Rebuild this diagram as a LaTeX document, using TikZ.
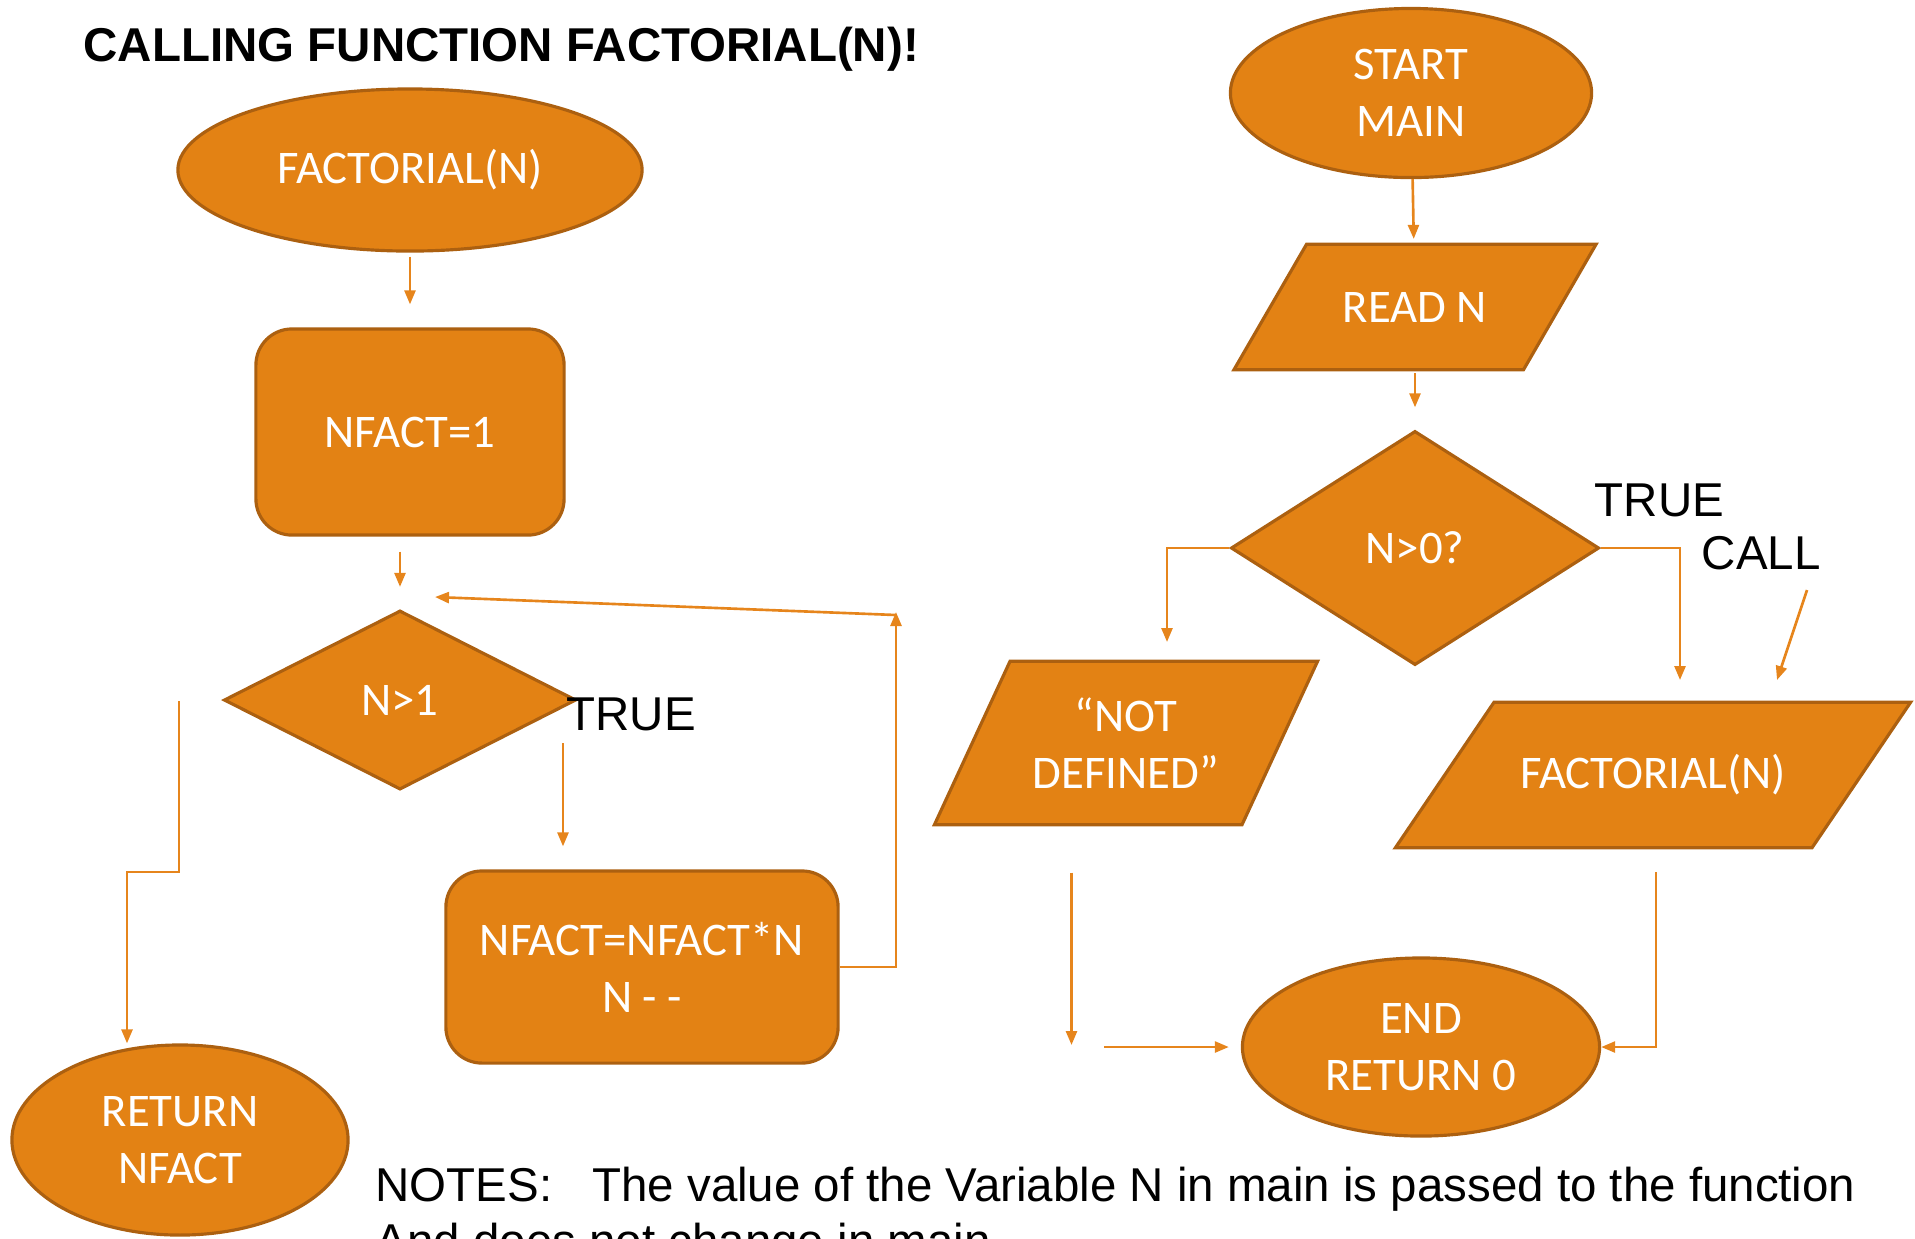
\documentclass[tikz,border=0pt]{standalone}
\usepackage{fontspec}
\setmainfont{Liberation Sans}
\newfontfamily\boxfont{Carlito}
\usetikzlibrary{shapes.geometric,arrows.meta}

\definecolor{boxfill}{RGB}{227,130,20}
\definecolor{boxedge}{RGB}{172,96,16}
\definecolor{linecol}{RGB}{230,133,28}

\begin{document}
\begin{tikzpicture}[x=0.01cm, y=-0.01cm,
  box/.style={draw=boxedge, fill=boxfill, line width=0.9pt, text=white, inner sep=0pt,
    font=\boxfont\fontsize{13.3}{16.2}\selectfont, align=center},
  oval/.style={box, ellipse},
  rbox/.style={box, rectangle, rounded corners=0.36cm},
  cond/.style={box, diamond},
  io/.style={box, rectangle, draw=none, fill=none, path picture={
    \filldraw[draw=boxedge, fill=boxfill, line width=0.9pt]
      ([shift={(#1+0.6pt,-0.5pt)}]path picture bounding box.north west) --
      ([shift={(-1pt,-0.5pt)}]path picture bounding box.north east) --
      ([shift={(-#1-0.6pt,0.5pt)}]path picture bounding box.south east) --
      ([shift={(1pt,0.5pt)}]path picture bounding box.south west) -- cycle;}},
  arr/.style={draw=linecol, line width=0.75pt, -{Triangle[length=0.14cm,width=0.11cm]}},
  lbl/.style={font=\fontsize{13.5}{16}\selectfont, inner sep=0pt, anchor=base west}]
  \useasboundingbox (0,0) rectangle (1915,1238);

  \node[lbl, font=\bfseries\fontsize{13.5}{16}\selectfont] (title) at (83,61) {CALLING FUNCTION FACTORIAL(N)!};

  % function
  \node[oval, minimum width=4.64cm, minimum height=1.62cm] (fact) at (410,170) {FACTORIAL(N)};
  \node[rbox, minimum width=3.08cm, minimum height=2.06cm] (nfact1) at (410,432) {NFACT=1};
  \node[cond, minimum width=3.52cm, minimum height=1.79cm] (n1) at (400,700) {N>1};
  \node[rbox, minimum width=3.92cm, minimum height=1.92cm] (nfactn) at (642,967) {NFACT=NFACT*N\\N - -};
  \node[oval, minimum width=3.36cm, minimum height=1.90cm] (retn) at (180,1140) {RETURN\\NFACT};
  \node[lbl] (true1) at (566,730) {TRUE};

  \coordinate (t1) at (563,743);
  \coordinate (loopup) at (896,612);
  \coordinate (loopr) at (896,615);
  \coordinate (loopl) at (435,597);
  \coordinate (f1) at (179,701);
  \coordinate (f2) at (127,872);

  \draw[arr, shorten <=0.04cm, shorten >=0.23cm] (fact) -- (nfact1);
  \draw[arr, shorten <=0.15cm, shorten >=0.22cm] (nfact1.south -| n1.north) -- (n1.north);
  \draw[arr, shorten >=0.23cm] (t1) -- (t1 |- nfactn.north);
  \draw[arr] (nfactn.east) -| (loopup);
  \draw[arr] (loopr) -- (loopl);
  \draw[arr] (f1) |- (f2) -- (f2 |- retn.north);

  % main
  \node[oval, minimum width=3.61cm, minimum height=1.69cm] (start) at (1411,93) {START\\MAIN};
  \node[io=0.74cm, minimum width=3.69cm, minimum height=1.29cm] (readn) at (1415,307) {READ N};
  \node[cond, minimum width=3.68cm, minimum height=2.34cm] (n0) at (1415,548) {N>0?};
  \node[io=0.77cm, minimum width=3.90cm, minimum height=1.67cm] (notdef) at (1126,743) {“NOT\\DEFINED”};
  \node[io=1.0cm, minimum width=5.22cm, minimum height=1.49cm] (factcall) at (1653,775) {FACTORIAL(N)};
  \node[oval, minimum width=3.57cm, minimum height=1.78cm] (endr) at (1421,1047) {END\\RETURN 0};
  \node[lbl] (true2) at (1594,516) {TRUE};
  \node[lbl] (call) at (1701,569) {CALL};

  \coordinate (nd1) at (1167,642);
  \coordinate (fc1) at (1680,680);
  \coordinate (callA) at (1807,590);
  \coordinate (callB) at (1777,680);
  \coordinate (nd2) at (1071.5,872.5);
  \coordinate (nd3) at (1071.5,1045);
  \coordinate (e1) at (1104,1047);
  \coordinate (fc2) at (1656,872);

  \draw[arr, shorten >=0.02cm] (start) -- (readn);
  \draw[arr, shorten >=0.22cm] (readn) -- (n0);
  \draw[arr] (n0.west) -| (nd1);
  \draw[arr] (n0.east) -| (fc1);
  \draw[arr] (callA) -- (callB);
  \draw[arr] (nd2) -- (nd3);
  \draw[arr, shorten >=0.12cm] (e1) -- (endr.west);
  \draw[arr] (fc2) |- (endr.east);

  \node[lbl, align=left, font=\fontsize{13.5}{15.65}\selectfont] (notes) at (375,1257)
    {NOTES:\hspace{0.84em}The value of the Variable N in main is passed to the function\\And does not change in main};
\end{tikzpicture}
\end{document}
